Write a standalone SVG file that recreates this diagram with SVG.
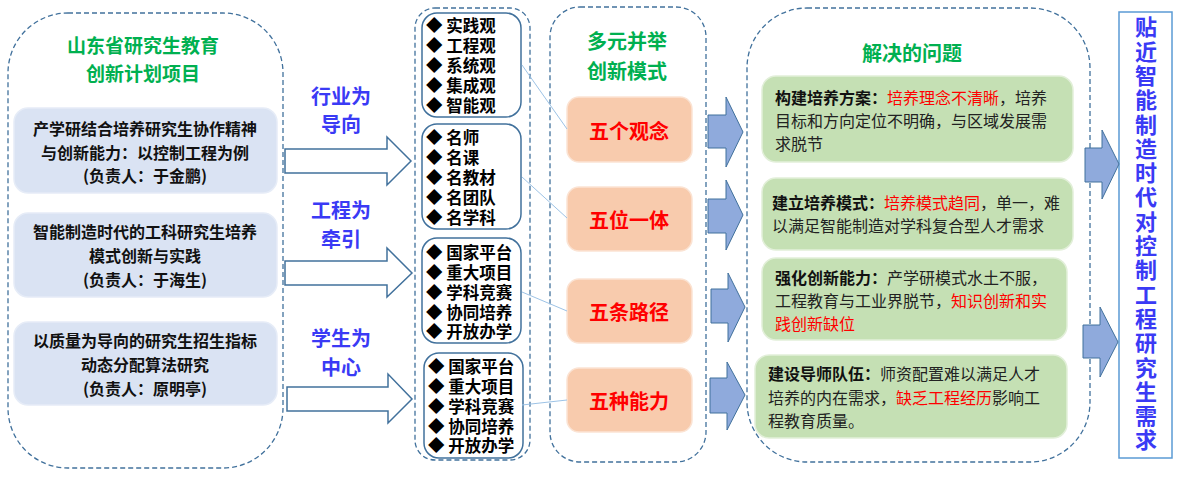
<svg xmlns="http://www.w3.org/2000/svg" width="1191" height="479" viewBox="0 0 1191 479">
<defs>
<style>
text{font-family:"Noto Sans CJK SC","Liberation Sans",sans-serif;}
.dash{fill:none;stroke:#41719c;stroke-width:1.3;stroke-dasharray:5 3;}
.proj{fill:#dae3f3;stroke:#e6ecf7;stroke-width:1.5;}
.lt{font-size:16px;font-weight:bold;fill:#111;text-anchor:middle;dominant-baseline:central;}
.gt{font-size:19px;font-weight:bold;fill:#00b050;text-anchor:middle;dominant-baseline:central;}
.bt{font-size:20px;font-weight:bold;fill:#3a3af5;text-anchor:middle;dominant-baseline:central;}
.hollow{fill:#fff;stroke:#41719c;stroke-width:1.5;}
.item{fill:#fff;stroke:#41719c;stroke-width:1.5;}
.it{font-size:16.5px;font-weight:bold;fill:#000;dominant-baseline:central;}
.orange{fill:#f8cbad;stroke:#fbe3d3;stroke-width:1.5;}
.ot{font-size:20px;font-weight:bold;fill:#ff0000;text-anchor:middle;dominant-baseline:central;}
.barrow{fill:#8faadc;stroke:#41719c;stroke-width:1;}
.link{stroke:#9dc3e6;stroke-width:1;fill:none;}
.green{fill:#c5e0b4;stroke:#e2efd9;stroke-width:1.5;}
.pt{font-size:16px;fill:#222;dominant-baseline:central;}
.b{font-weight:bold;fill:#111;}
.r{fill:#ff0000;}
.vt{font-size:22px;font-weight:bold;fill:#3a3af5;writing-mode:vertical-rl;text-orientation:upright;letter-spacing:2.3px;}
</style>
</defs>

<g id="projects">
<rect class="dash" x="8" y="13" width="275" height="455" rx="60"/>
<text class="gt" x="143" y="44">山东省研究生教育</text>
<text class="gt" x="143" y="72">创新计划项目</text>
<g id="project1">
<rect class="proj" x="14" y="108" width="263" height="85" rx="14"/>
<text class="lt" x="145" y="128">产学研结合培养研究生协作精神</text>
<text class="lt" x="145" y="152">与创新能力：以控制工程为例</text>
<text class="lt" x="145" y="175">(负责人：于金鹏)</text>
</g>
<g id="project2">
<rect class="proj" x="14" y="213" width="263" height="84" rx="14"/>
<text class="lt" x="145" y="231">智能制造时代的工科研究生培养</text>
<text class="lt" x="145" y="255">模式创新与实践</text>
<text class="lt" x="145" y="279">(负责人：于海生)</text>
</g>
<g id="project3">
<rect class="proj" x="14" y="322" width="263" height="83" rx="14"/>
<text class="lt" x="145" y="340">以质量为导向的研究生招生指标</text>
<text class="lt" x="145" y="364">动态分配算法研究</text>
<text class="lt" x="145" y="388">(负责人：原明亭)</text>
</g>
</g>

<g id="guides">
<text class="bt" x="341" y="95">行业为</text>
<text class="bt" x="341" y="123">导向</text>
<text class="bt" x="341" y="209">工程为</text>
<text class="bt" x="341" y="238">牵引</text>
<text class="bt" x="341" y="337">学生为</text>
<text class="bt" x="341" y="366">中心</text>
</g>

<g id="items">
<rect class="dash" x="415" y="8" width="115" height="452" rx="20"/>
<g id="itemA">
<rect class="item" x="422" y="13" width="99" height="104" rx="15"/>
<text class="it"><tspan x="426" y="25">◆ 实践观</tspan><tspan x="426" y="45">◆ 工程观</tspan><tspan x="426" y="65">◆ 系统观</tspan><tspan x="426" y="85">◆ 集成观</tspan><tspan x="426" y="105">◆ 智能观</tspan></text>
</g>
<g id="itemB">
<rect class="item" x="422" y="124" width="99" height="105" rx="15"/>
<text class="it"><tspan x="426" y="137">◆ 名师</tspan><tspan x="426" y="157">◆ 名课</tspan><tspan x="426" y="177">◆ 名教材</tspan><tspan x="426" y="197">◆ 名团队</tspan><tspan x="426" y="217">◆ 名学科</tspan></text>
</g>
<g id="itemC">
<rect class="item" x="422" y="238" width="99" height="105" rx="15"/>
<text class="it"><tspan x="426" y="252">◆ 国家平台</tspan><tspan x="426" y="272">◆ 重大项目</tspan><tspan x="426" y="292">◆ 学科竞赛</tspan><tspan x="426" y="312">◆ 协同培养</tspan><tspan x="426" y="331">◆ 开放办学</tspan></text>
</g>
<g id="itemD">
<rect class="item" x="424" y="353" width="99" height="105" rx="15"/>
<text class="it"><tspan x="428" y="366">◆ 国家平台</tspan><tspan x="428" y="386">◆ 重大项目</tspan><tspan x="428" y="406">◆ 学科竞赛</tspan><tspan x="428" y="426">◆ 协同培养</tspan><tspan x="428" y="445">◆ 开放办学</tspan></text>
</g>
</g>

<g id="modes">
<rect class="dash" x="550" y="7" width="156" height="455" rx="30"/>
<text class="gt" x="627" y="40" style="font-size:20px">多元并举</text>
<text class="gt" x="627" y="70" style="font-size:20px">创新模式</text>
<g id="mode1"><rect class="orange" x="567" y="97" width="125" height="65" rx="12"/><text class="ot" x="629" y="130">五个观念</text></g>
<g id="mode2"><rect class="orange" x="567" y="187" width="125" height="64" rx="12"/><text class="ot" x="629" y="219">五位一体</text></g>
<g id="mode3"><rect class="orange" x="567" y="279" width="125" height="64" rx="12"/><text class="ot" x="629" y="311">五条路径</text></g>
<g id="mode4"><rect class="orange" x="567" y="368" width="125" height="64" rx="12"/><text class="ot" x="629" y="400">五种能力</text></g>
</g>

<g id="problems">
<path class="dash" d="M807 8 H1030 A60 60 0 0 1 1090 68 V402 A60 60 0 0 1 1030 462 H807 A60 60 0 0 1 747 402 V68 A60 60 0 0 1 807 8 Z"/>
<text class="gt" x="912" y="52" style="font-size:20px">解决的问题</text>
<g id="problem1">
<rect class="green" x="762" y="76" width="311" height="86" rx="14"/>
<text class="pt"><tspan x="775" y="97" class="b">构建培养方案：</tspan><tspan class="r">培养理念不清晰</tspan><tspan>，培养</tspan><tspan x="775" y="120">目标和方向定位不明确，与区域发展需</tspan><tspan x="775" y="143">求脱节</tspan></text>
</g>
<g id="problem2">
<rect class="green" x="762" y="178" width="311" height="72" rx="14"/>
<text class="pt"><tspan x="772" y="202" class="b">建立培养模式：</tspan><tspan class="r">培养模式趋同</tspan><tspan>，单一，难</tspan><tspan x="772" y="225">以满足智能制造对学科复合型人才需求</tspan></text>
</g>
<g id="problem3">
<rect class="green" x="762" y="258" width="305" height="82" rx="14"/>
<text class="pt"><tspan x="775" y="277" class="b">强化创新能力：</tspan><tspan>产学研模式水土不服，</tspan><tspan x="775" y="300">工程教育与工业界脱节，</tspan><tspan class="r">知识创新和实</tspan><tspan x="775" y="323" class="r">践创新缺位</tspan></text>
</g>
<g id="problem4">
<rect class="green" x="755" y="355" width="312" height="83" rx="14"/>
<text class="pt"><tspan x="768" y="373" class="b">建设导师队伍：</tspan><tspan>师资配置难以满足人才</tspan><tspan x="768" y="397">培养的内在需求，</tspan><tspan class="r">缺乏工程经历</tspan><tspan>影响工</tspan><tspan x="768" y="420">程教育质量。</tspan></text>
</g>
</g>

<g id="demand">
<rect x="1119" y="12" width="53" height="446" fill="#fff" stroke="#5b9bd5" stroke-width="1.5"/>
<text class="vt" x="1146" y="16">贴近智能制造时代对控制工程研究生需求</text>
</g>

<g id="connectors">
<path class="hollow" d="M285 149 H387 V137 L411 161 L387 185 V173 H285 Z"/>
<path class="hollow" d="M285 261 H387 V248 L412 273 L387 297 V285 H285 Z"/>
<path class="hollow" d="M287 387 H388 V374 L412 399 L388 423 V411 H287 Z"/>
<line class="link" x1="522" y1="65" x2="567" y2="129"/>
<line class="link" x1="522" y1="177" x2="567" y2="218"/>
<line class="link" x1="522" y1="292" x2="567" y2="311"/>
<line class="link" x1="522" y1="405" x2="567" y2="400"/>
<path class="barrow" d="M708 115 H726 V97 L743 132 L726 167 V148 H708 Z"/>
<path class="barrow" d="M708 199 H726 V180 L743 215 L726 250 V233 H708 Z"/>
<path class="barrow" d="M711 289 H728 V273 L745 307 L728 342 V323 H711 Z"/>
<path class="barrow" d="M710 378 H727 V362 L745 395 L727 430 V413 H710 Z"/>
<path class="barrow" d="M1085 148 H1102 V130 L1119 164 L1102 199 V182 H1085 Z"/>
<path class="barrow" d="M1083 325 H1100 V307 L1118 342 L1100 377 V358 H1083 Z"/>
</g>
</svg>
